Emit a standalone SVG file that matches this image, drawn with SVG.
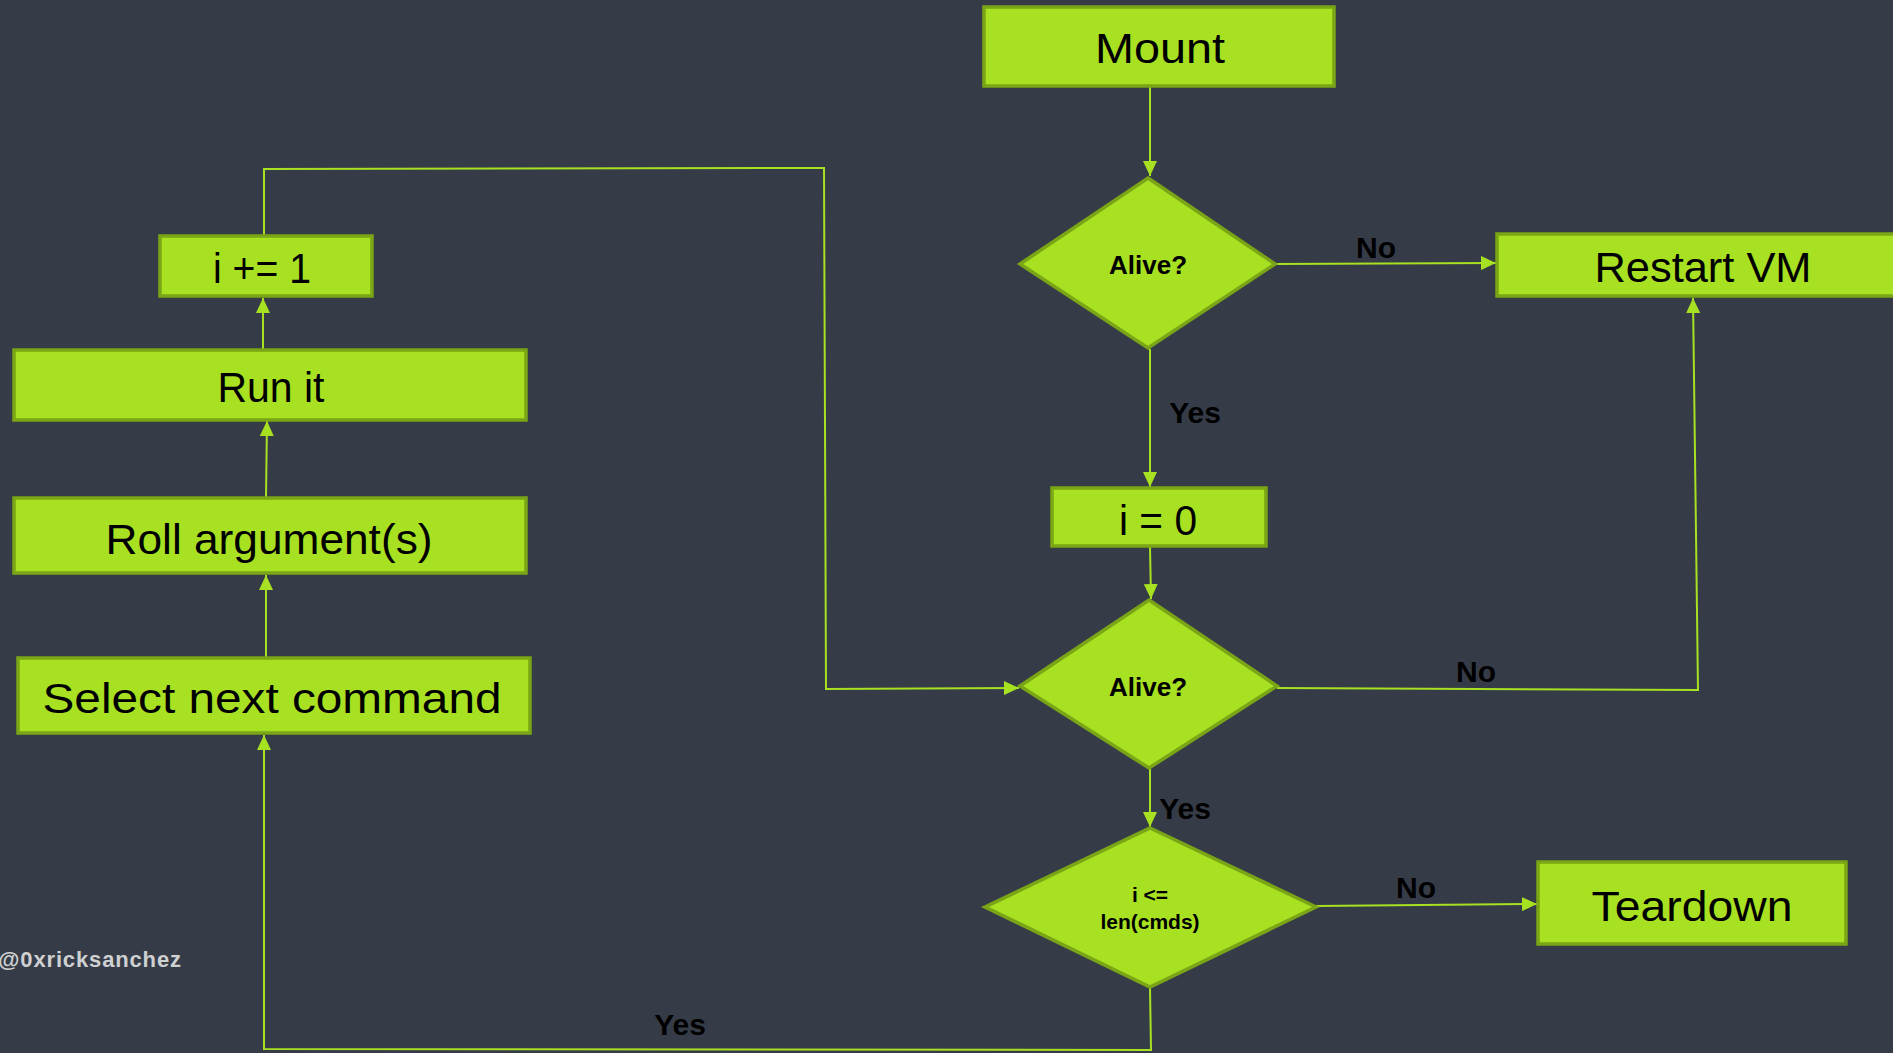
<svg xmlns="http://www.w3.org/2000/svg" width="1893" height="1053" viewBox="0 0 1893 1053">
<defs>
<style>
.box{fill:#a8e022;stroke:#7aa516;stroke-width:3.5}
.t{font-family:"Liberation Sans",Arial,sans-serif;font-size:42px;fill:#000;text-anchor:middle}
.d{font-family:"Liberation Sans",Arial,sans-serif;font-weight:bold;fill:#000;text-anchor:middle}
.lbl{font-family:"Liberation Sans",Arial,sans-serif;font-weight:bold;font-size:30px;fill:#000;text-anchor:middle}
.c{fill:none;stroke:#a8e022;stroke-width:2}
</style>
<marker id="ah" markerUnits="userSpaceOnUse" markerWidth="16" markerHeight="14" refX="15" refY="7" orient="auto">
<path d="M0,0 L15,7 L0,14 z" fill="#a8e022"/>
</marker>
</defs>
<rect width="1893" height="1053" fill="#363c47"/>
<g id="connectors">
<path class="c" d="M1150,87 L1150,176" marker-end="url(#ah)"/>
<path class="c" d="M1276,264 L1496,263" marker-end="url(#ah)"/>
<path class="c" d="M1150,349 L1150,487" marker-end="url(#ah)"/>
<path class="c" d="M1150,547 L1151,599" marker-end="url(#ah)"/>
<path class="c" d="M1277,688 L1698,690 L1693,298" marker-end="url(#ah)"/>
<path class="c" d="M1150,769 L1150,827" marker-end="url(#ah)"/>
<path class="c" d="M1316,906 L1537,904" marker-end="url(#ah)"/>
<path class="c" d="M1150,988 L1151,1050 L264,1049 L264,735" marker-end="url(#ah)"/>
<path class="c" d="M266,657 L266,575" marker-end="url(#ah)"/>
<path class="c" d="M266,497 L267,421" marker-end="url(#ah)"/>
<path class="c" d="M263,349 L263,298" marker-end="url(#ah)"/>
<path class="c" d="M264,235 L264,169 L824,168 L826,689 L1019,688" marker-end="url(#ah)"/>
<text class="lbl" x="1376" y="258">No</text>
<text class="lbl" x="1195" y="423">Yes</text>
<text class="lbl" x="1476" y="682">No</text>
<text class="lbl" x="1185" y="819">Yes</text>
<text class="lbl" x="1416" y="898">No</text>
<text class="lbl" x="680" y="1035">Yes</text>
</g>
<g id="mount">
<rect class="box" x="984" y="7" width="350" height="79"/>
<text class="t" x="1160" y="63" font-size="45" textLength="130" lengthAdjust="spacingAndGlyphs">Mount</text>
</g>
<g id="alive1">
<polygon class="box" points="1148,178 1275,264 1148,348 1020,264"/>
<text class="d" x="1148" y="274" font-size="26">Alive?</text>
</g>
<g id="restart-vm">
<rect class="box" x="1497" y="234" width="420" height="62"/>
<text class="t" x="1703" y="282" textLength="217" lengthAdjust="spacingAndGlyphs">Restart VM</text>
</g>
<g id="i-zero">
<rect class="box" x="1052" y="488" width="214" height="58"/>
<text class="t" x="1158" y="535" textLength="78" lengthAdjust="spacingAndGlyphs">i = 0</text>
</g>
<g id="alive2">
<polygon class="box" points="1149,600 1277,686 1149,768 1020,686"/>
<text class="d" x="1148" y="696" font-size="26">Alive?</text>
</g>
<g id="loop-check">
<polygon class="box" points="1150,828 1316,907 1150,987 985,907"/>
<text class="d" x="1150" y="902" font-size="21">i &lt;=</text>
<text class="d" x="1150" y="929" font-size="21">len(cmds)</text>
</g>
<g id="teardown">
<rect class="box" x="1538" y="862" width="308" height="82"/>
<text class="t" x="1692" y="921" textLength="201" lengthAdjust="spacingAndGlyphs">Teardown</text>
</g>
<g id="i-inc">
<rect class="box" x="160" y="236" width="212" height="60"/>
<text class="t" x="262" y="283" textLength="98" lengthAdjust="spacingAndGlyphs">i +=  1</text>
</g>
<g id="run-it">
<rect class="box" x="14" y="350" width="512" height="70"/>
<text class="t" x="271" y="402" textLength="107" lengthAdjust="spacingAndGlyphs">Run it</text>
</g>
<g id="roll-args">
<rect class="box" x="14" y="498" width="512" height="75"/>
<text class="t" x="269" y="554" textLength="327" lengthAdjust="spacingAndGlyphs">Roll argument(s)</text>
</g>
<g id="select-next">
<rect class="box" x="18" y="658" width="512" height="75"/>
<text class="t" x="272" y="713" textLength="459" lengthAdjust="spacingAndGlyphs">Select next command</text>
</g>
<text x="-2" y="967" font-family="'Liberation Sans',Arial,sans-serif" font-weight="bold" font-size="22" fill="#cfd0d2" textLength="183">@0xricksanchez</text>
</svg>
